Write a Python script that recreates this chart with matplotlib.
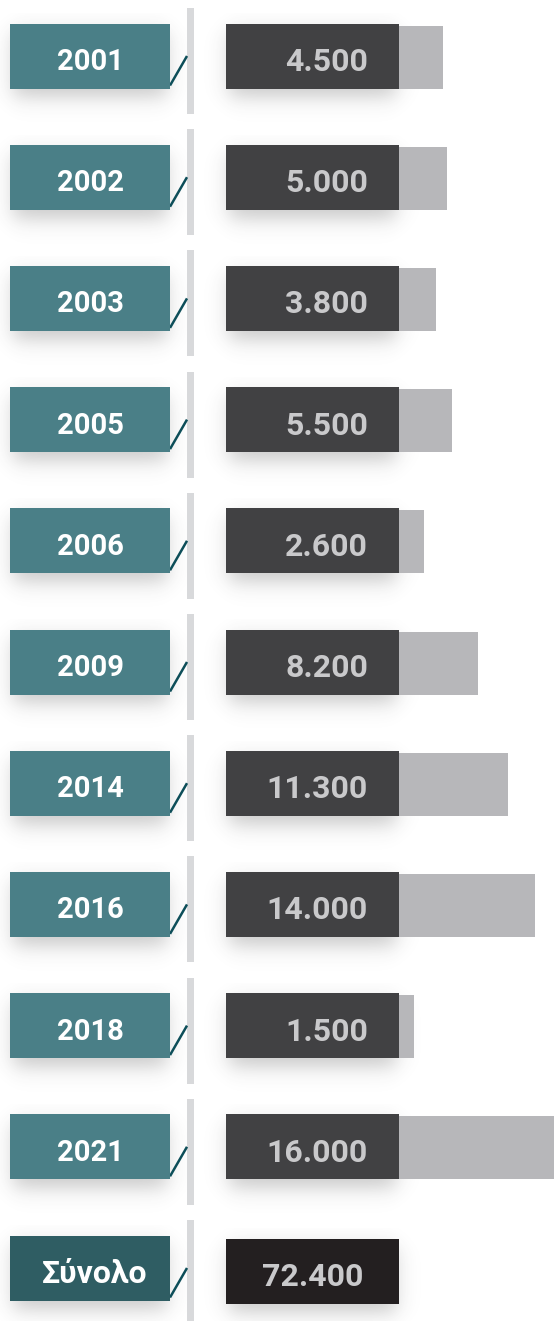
import numpy as np
import matplotlib
matplotlib.use("Agg")
import matplotlib.pyplot as plt
from matplotlib.patches import Rectangle

# data
years = ["2001", "2002", "2003", "2005", "2006", "2009", "2014", "2016", "2018", "2021"]
values = [4500, 5000, 3800, 5500, 2600, 8200, 11300, 14000, 1500, 16000]
total_label = "Σύνολο"
total_value = sum(values)

def fmt(v):
    return f"{v:,}".replace(",", ".")

W, H = 554, 1321
fig = plt.figure(figsize=(W / 100, H / 100), dpi=100, facecolor="white")
ax = fig.add_axes([0, 0, 1, 1])
ax.set_xlim(0, W)
ax.set_ylim(H, 0)
ax.axis("off")

# bar axes for the grey value bars, starting at the right edge of the dark boxes
bx0, bx1 = 399, 554
axb = fig.add_axes([bx0 / W, 0, (bx1 - bx0) / W, 1])
axb.set_xlim(0, 16000)
axb.set_ylim(H, 0)
axb.axis("off")
axb.patch.set_alpha(0)

teal = "#4a7f87"
teal_total = "#2f5d63"
dark = "#414143"
dark_total = "#231f20"
grey_bar = "#b7b7ba"
txt_grey = "#c9c9cb"
sep = "#d8d9db"
diag = "#0d4e59"
font = "Roboto"

n = len(years) + 1
centers = 56 + np.arange(n) * 121.2
box_h = 65


def shadow(x0, x1, y0, y1, sigma=6, off=9, amax=0.28):
    gx = np.arange(x0 - 25, x1 + 25)
    gy = np.arange(y0 - 10, y1 + 40)
    sx = 1 / (1 + np.exp(-(gx - x0 - 3) / sigma)) * 1 / (1 + np.exp(-(x1 - 3 - gx) / sigma))
    sy = 1 / (1 + np.exp(-(gy - y0 - off) / sigma)) * 1 / (1 + np.exp(-(y1 + off - gy) / sigma))
    a = amax * np.outer(sy, sx)
    img = np.zeros((len(gy), len(gx), 4))
    img[..., :3] = 0.25
    img[..., 3] = a
    ax.imshow(img, extent=(gx[0], gx[-1], gy[-1], gy[0]), zorder=1, interpolation="bilinear")


for i in range(n):
    cy = centers[i]
    is_total = i == n - 1
    top = cy - box_h / 2
    bot = cy + box_h / 2

    # separator segment
    ax.add_patch(Rectangle((187, cy + 5 - 53), 7, 106, color=sep, zorder=2, lw=0))
    # diagonal connector
    ax.plot([170, 187], [bot - 3, cy], color=diag, lw=1.8, zorder=3, solid_capstyle="butt")

    # label box
    shadow(10, 170, top, bot)
    ax.add_patch(Rectangle((10, top), 160, box_h, color=teal_total if is_total else teal, zorder=4, lw=0))
    ax.text(90 if not is_total else 95, cy + 6, total_label if is_total else years[i],
            ha="center", va="center", color="white",
            fontsize=23 if is_total else 21, fontweight="bold", family=font, zorder=5)

    # value box
    vy = cy + (3 if is_total else 0)
    shadow(226, 399, vy - box_h / 2, vy + box_h / 2)
    ax.add_patch(Rectangle((226, vy - box_h / 2), 173, box_h,
                           color=dark_total if is_total else dark, zorder=4, lw=0))
    v = total_value if is_total else values[i]
    ax.text(368 if not is_total else 363, vy + 6, fmt(v), ha="right", va="center",
            color=txt_grey, fontsize=23, fontweight="bold", family=font, zorder=5)

# grey bars
axb.barh(centers[:-1] + 1, values, height=box_h - 2, left=0, color=grey_bar, zorder=2)

fig.savefig("out.png", dpi=100, facecolor="white")
